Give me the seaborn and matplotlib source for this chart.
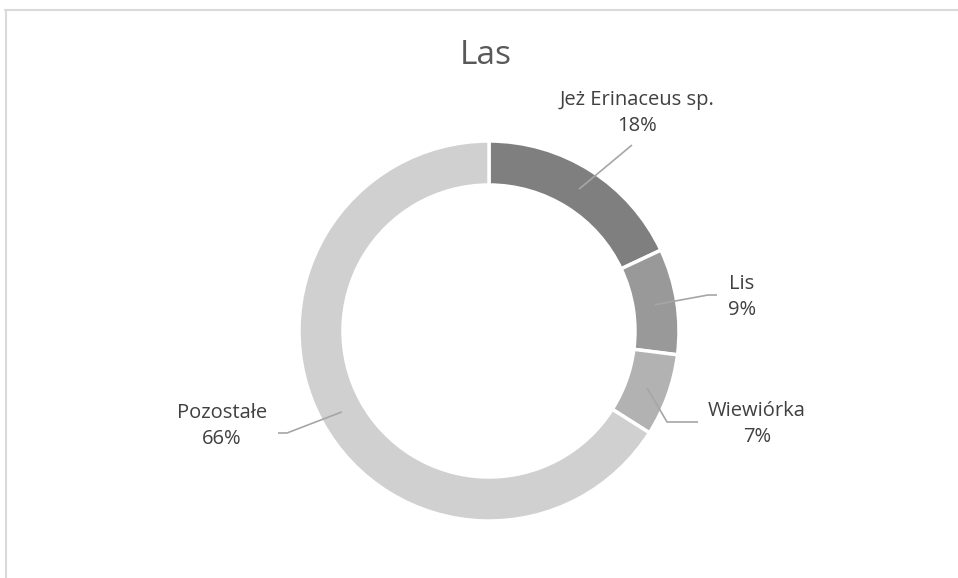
import numpy as np
import matplotlib
matplotlib.use("Agg")
import matplotlib.pyplot as plt
import seaborn as sns
from matplotlib.lines import Line2D

sns.set_style("white")
plt.rcParams["font.family"] = ["Open Sans", "DejaVu Sans"]

# --------------------------------------
# DATA
# --------------------------------------
title = "Las"
labels = ["Jeż Erinaceus sp.", "Lis", "Wiewiórka", "Pozostałe"]
shares = [18, 9, 7, 66]
colors = ["#7f7f7f", "#999999", "#b2b2b2", "#d0d0d0"]

# label text centres and leader-line ends (pixel coords, y down)
text_pos = [(637, 113), (742, 297), (757, 424), (222, 426)]
leader_ends = [[(632, 145)], [(708, 295), (717, 295)],
               [(667, 422), (698, 422)], [(287, 433), (278, 433)]]

W, H = 958, 578
cx, cy = 489, 331
R_out, ring = 190, 44

fig = plt.figure(figsize=(W / 100, H / 100), dpi=100)
ax = fig.add_axes([0, 0, 1, 1])

wedges, _ = ax.pie(
    shares,
    colors=colors,
    startangle=90,
    counterclock=False,
    center=(cx, H - cy),
    radius=R_out,
    wedgeprops=dict(width=ring, edgecolor="white", linewidth=2.5),
    frame=True,
)
ax.set_xlim(0, W)
ax.set_ylim(0, H)
ax.set_aspect("equal")
ax.axis("off")

# leader lines + labels
total = sum(shares)
cum = np.cumsum([0] + shares)
r_mid = R_out - ring / 2
for i, (lab, s) in enumerate(zip(labels, shares)):
    frac = (cum[i] + s / 2) / total
    ang = np.deg2rad(90 - 360 * frac)
    x0 = cx + r_mid * np.cos(ang)
    y0 = cy - r_mid * np.sin(ang)
    pts = [(x0, y0)] + leader_ends[i]
    xs = [p[0] for p in pts]
    ys = [H - p[1] for p in pts]
    ax.plot(xs, ys, color="#a6a6a6", lw=1.2, solid_capstyle="butt")
    tx, ty = text_pos[i]
    ax.text(tx, H - ty, f"{lab}\n{s}%", ha="center", va="center",
            fontsize=14.5, color="#404040", linespacing=1.4)

ax.text(cx - 3, H - 56, title, ha="center", va="center",
        fontsize=24, color="#595959")

# chart-area frame (only top and left edges visible)
fig.add_artist(Line2D([5 / W, 1], [1 - 10 / H, 1 - 10 / H],
                      transform=fig.transFigure, color="#d9d9d9", lw=1.5))
fig.add_artist(Line2D([6 / W, 6 / W], [0, 1 - 10 / H],
                      transform=fig.transFigure, color="#d9d9d9", lw=1.5))

fig.savefig("out.png", dpi=100, facecolor="white")
